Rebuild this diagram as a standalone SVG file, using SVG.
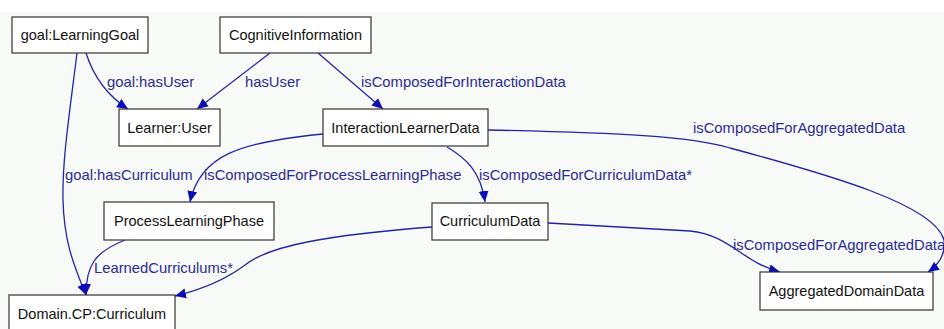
<svg xmlns="http://www.w3.org/2000/svg" width="944" height="329" viewBox="0 0 944 329">
<defs>
<style>
.node rect{fill:#ffffff;stroke:#333333;stroke-width:1.2}
.node text{font-family:"Liberation Sans",Arial,sans-serif;font-size:14.5px;fill:#111111;text-anchor:middle}
.edges path{fill:none;stroke:#2424a6;stroke-width:1.3}
.lbl{font-family:"Liberation Sans",Arial,sans-serif;font-size:14.8px;fill:#2a2a96}
</style>
<marker id="arr" viewBox="0 0 10 10" refX="10" refY="5" markerWidth="11" markerHeight="11" markerUnits="userSpaceOnUse" orient="auto">
<path d="M0,0.5 L10,5 L0,9.5 z" fill="#0c0cb8"/>
</marker>
</defs>
<rect x="0" y="0" width="944" height="329" fill="#ffffff"/>
<rect x="0" y="12" width="944" height="317" fill="#f8faf7"/>
<g class="edges">
<path d="M86,53 C94,78 108,96 128,109" marker-end="url(#arr)"/>
<path d="M270,53 L197,109" marker-end="url(#arr)"/>
<path d="M318,53 L383,109" marker-end="url(#arr)"/>
<path d="M77,53 C70,110 62,160 63,200 C64,245 76,270 86,295" marker-end="url(#arr)"/>
<path d="M323,134 C240,142 200,155 190,202" marker-end="url(#arr)"/>
<path d="M447,147 C466,158 481,172 485,202" marker-end="url(#arr)"/>
<path d="M488,130 C620,133 690,136 730,148 C830,175 935,205 944,240 C946,255 938,265 928,272" marker-end="url(#arr)"/>
<path d="M548,223 L690,231 C730,235 742,262 780,272" marker-end="url(#arr)"/>
<path d="M432,227 C330,235 270,245 245,265 C225,280 200,290 175,296" marker-end="url(#arr)"/>
<path d="M125,240 C95,252 86,265 86,295" marker-end="url(#arr)"/>
</g>
<g class="labels">
<text class="lbl" x="107" y="87">goal:hasUser</text>
<text class="lbl" x="245" y="87">hasUser</text>
<text class="lbl" x="361" y="87">isComposedForInteractionData</text>
<text class="lbl" x="693" y="133">isComposedForAggregatedData</text>
<text class="lbl" x="65" y="180">goal:hasCurriculum</text>
<text class="lbl" x="204" y="180">isComposedForProcessLearningPhase</text>
<text class="lbl" x="479" y="180">isComposedForCurriculumData*</text>
<text class="lbl" x="94" y="273">LearnedCurriculums*</text>
<text class="lbl" x="733" y="250">isComposedForAggregatedData</text>
</g>
<g id="goal-LearningGoal" class="node"><rect x="12" y="17" width="136" height="36"/><text x="80" y="40">goal:LearningGoal</text></g>
<g id="CognitiveInformation" class="node"><rect x="220" y="17" width="151" height="36"/><text x="295.5" y="40">CognitiveInformation</text></g>
<g id="Learner-User" class="node"><rect x="119" y="109" width="101" height="37"/><text x="169.5" y="133">Learner:User</text></g>
<g id="InteractionLearnerData" class="node"><rect x="323" y="109" width="165" height="37"/><text x="405.5" y="133">InteractionLearnerData</text></g>
<g id="ProcessLearningPhase" class="node"><rect x="104" y="202" width="170" height="38"/><text x="189" y="226">ProcessLearningPhase</text></g>
<g id="CurriculumData" class="node"><rect x="432" y="203" width="116" height="37"/><text x="490" y="226">CurriculumData</text></g>
<g id="Domain-CP-Curriculum" class="node"><rect x="9" y="295" width="166" height="40"/><text x="92" y="319">Domain.CP:Curriculum</text></g>
<g id="AggregatedDomainData" class="node"><rect x="760" y="272" width="173" height="38"/><text x="846.5" y="296">AggregatedDomainData</text></g>
</svg>
